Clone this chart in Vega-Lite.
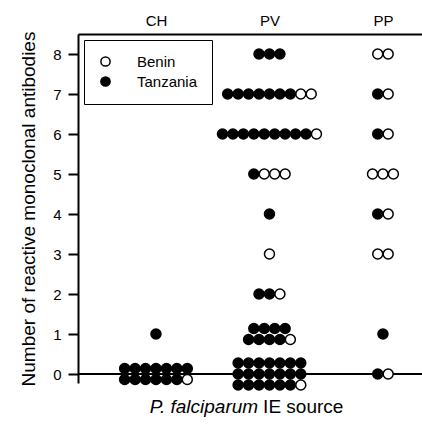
{
  "$schema": "https://vega.github.io/schema/vega-lite/v6.json",
  "width": 344,
  "height": 349,
  "autosize": {"type": "none"},
  "padding": {"left": 78, "top": 34, "right": 0, "bottom": 46},
  "background": "white",
  "config": {
    "view": {"stroke": null},
    "font": "Liberation Sans",
    "axis": {
      "grid": false,
      "domainColor": "black",
      "domainWidth": 2,
      "tickColor": "black",
      "tickWidth": 2,
      "labelColor": "black",
      "labelFont": "Liberation Sans",
      "labelFontSize": 15,
      "titleFont": "Liberation Sans",
      "titleFontSize": 19,
      "titleFontWeight": "normal",
      "titleColor": "black"
    }
  },
  "datasets": {
    "dots": [
      {"source": "CH", "mabs": 1, "origin": "Tanzania", "tier": 1},
      {"source": "CH", "mabs": 0, "origin": "Tanzania", "tier": 1},
      {"source": "CH", "mabs": 0, "origin": "Tanzania", "tier": 1},
      {"source": "CH", "mabs": 0, "origin": "Tanzania", "tier": 1},
      {"source": "CH", "mabs": 0, "origin": "Tanzania", "tier": 1},
      {"source": "CH", "mabs": 0, "origin": "Tanzania", "tier": 1},
      {"source": "CH", "mabs": 0, "origin": "Tanzania", "tier": 1},
      {"source": "CH", "mabs": 0, "origin": "Tanzania", "tier": 1},
      {"source": "CH", "mabs": 0, "origin": "Tanzania", "tier": 2},
      {"source": "CH", "mabs": 0, "origin": "Tanzania", "tier": 2},
      {"source": "CH", "mabs": 0, "origin": "Tanzania", "tier": 2},
      {"source": "CH", "mabs": 0, "origin": "Tanzania", "tier": 2},
      {"source": "CH", "mabs": 0, "origin": "Tanzania", "tier": 2},
      {"source": "CH", "mabs": 0, "origin": "Tanzania", "tier": 2},
      {"source": "CH", "mabs": 0, "origin": "Benin", "tier": 2},

      {"source": "PV", "mabs": 8, "origin": "Tanzania", "tier": 1},
      {"source": "PV", "mabs": 8, "origin": "Tanzania", "tier": 1},
      {"source": "PV", "mabs": 8, "origin": "Tanzania", "tier": 1},
      {"source": "PV", "mabs": 7, "origin": "Tanzania", "tier": 1},
      {"source": "PV", "mabs": 7, "origin": "Tanzania", "tier": 1},
      {"source": "PV", "mabs": 7, "origin": "Tanzania", "tier": 1},
      {"source": "PV", "mabs": 7, "origin": "Tanzania", "tier": 1},
      {"source": "PV", "mabs": 7, "origin": "Tanzania", "tier": 1},
      {"source": "PV", "mabs": 7, "origin": "Tanzania", "tier": 1},
      {"source": "PV", "mabs": 7, "origin": "Tanzania", "tier": 1},
      {"source": "PV", "mabs": 7, "origin": "Benin", "tier": 1},
      {"source": "PV", "mabs": 7, "origin": "Benin", "tier": 1},
      {"source": "PV", "mabs": 6, "origin": "Tanzania", "tier": 1},
      {"source": "PV", "mabs": 6, "origin": "Tanzania", "tier": 1},
      {"source": "PV", "mabs": 6, "origin": "Tanzania", "tier": 1},
      {"source": "PV", "mabs": 6, "origin": "Tanzania", "tier": 1},
      {"source": "PV", "mabs": 6, "origin": "Tanzania", "tier": 1},
      {"source": "PV", "mabs": 6, "origin": "Tanzania", "tier": 1},
      {"source": "PV", "mabs": 6, "origin": "Tanzania", "tier": 1},
      {"source": "PV", "mabs": 6, "origin": "Tanzania", "tier": 1},
      {"source": "PV", "mabs": 6, "origin": "Tanzania", "tier": 1},
      {"source": "PV", "mabs": 6, "origin": "Benin", "tier": 1},
      {"source": "PV", "mabs": 5, "origin": "Tanzania", "tier": 1},
      {"source": "PV", "mabs": 5, "origin": "Benin", "tier": 1},
      {"source": "PV", "mabs": 5, "origin": "Benin", "tier": 1},
      {"source": "PV", "mabs": 5, "origin": "Benin", "tier": 1},
      {"source": "PV", "mabs": 4, "origin": "Tanzania", "tier": 1},
      {"source": "PV", "mabs": 3, "origin": "Benin", "tier": 1},
      {"source": "PV", "mabs": 2, "origin": "Tanzania", "tier": 1},
      {"source": "PV", "mabs": 2, "origin": "Tanzania", "tier": 1},
      {"source": "PV", "mabs": 2, "origin": "Benin", "tier": 1},
      {"source": "PV", "mabs": 1, "origin": "Tanzania", "tier": 1},
      {"source": "PV", "mabs": 1, "origin": "Tanzania", "tier": 1},
      {"source": "PV", "mabs": 1, "origin": "Tanzania", "tier": 1},
      {"source": "PV", "mabs": 1, "origin": "Tanzania", "tier": 1},
      {"source": "PV", "mabs": 1, "origin": "Tanzania", "tier": 2},
      {"source": "PV", "mabs": 1, "origin": "Tanzania", "tier": 2},
      {"source": "PV", "mabs": 1, "origin": "Tanzania", "tier": 2},
      {"source": "PV", "mabs": 1, "origin": "Tanzania", "tier": 2},
      {"source": "PV", "mabs": 1, "origin": "Benin", "tier": 2},
      {"source": "PV", "mabs": 0, "origin": "Tanzania", "tier": 1},
      {"source": "PV", "mabs": 0, "origin": "Tanzania", "tier": 1},
      {"source": "PV", "mabs": 0, "origin": "Tanzania", "tier": 1},
      {"source": "PV", "mabs": 0, "origin": "Tanzania", "tier": 1},
      {"source": "PV", "mabs": 0, "origin": "Tanzania", "tier": 1},
      {"source": "PV", "mabs": 0, "origin": "Tanzania", "tier": 1},
      {"source": "PV", "mabs": 0, "origin": "Tanzania", "tier": 1},
      {"source": "PV", "mabs": 0, "origin": "Tanzania", "tier": 2},
      {"source": "PV", "mabs": 0, "origin": "Tanzania", "tier": 2},
      {"source": "PV", "mabs": 0, "origin": "Tanzania", "tier": 2},
      {"source": "PV", "mabs": 0, "origin": "Tanzania", "tier": 2},
      {"source": "PV", "mabs": 0, "origin": "Tanzania", "tier": 2},
      {"source": "PV", "mabs": 0, "origin": "Tanzania", "tier": 2},
      {"source": "PV", "mabs": 0, "origin": "Tanzania", "tier": 2},
      {"source": "PV", "mabs": 0, "origin": "Tanzania", "tier": 3},
      {"source": "PV", "mabs": 0, "origin": "Tanzania", "tier": 3},
      {"source": "PV", "mabs": 0, "origin": "Tanzania", "tier": 3},
      {"source": "PV", "mabs": 0, "origin": "Tanzania", "tier": 3},
      {"source": "PV", "mabs": 0, "origin": "Tanzania", "tier": 3},
      {"source": "PV", "mabs": 0, "origin": "Tanzania", "tier": 3},
      {"source": "PV", "mabs": 0, "origin": "Benin", "tier": 3},

      {"source": "PP", "mabs": 8, "origin": "Benin", "tier": 1},
      {"source": "PP", "mabs": 8, "origin": "Benin", "tier": 1},
      {"source": "PP", "mabs": 7, "origin": "Tanzania", "tier": 1},
      {"source": "PP", "mabs": 7, "origin": "Benin", "tier": 1},
      {"source": "PP", "mabs": 6, "origin": "Tanzania", "tier": 1},
      {"source": "PP", "mabs": 6, "origin": "Benin", "tier": 1},
      {"source": "PP", "mabs": 5, "origin": "Benin", "tier": 1},
      {"source": "PP", "mabs": 5, "origin": "Benin", "tier": 1},
      {"source": "PP", "mabs": 5, "origin": "Benin", "tier": 1},
      {"source": "PP", "mabs": 4, "origin": "Tanzania", "tier": 1},
      {"source": "PP", "mabs": 4, "origin": "Benin", "tier": 1},
      {"source": "PP", "mabs": 3, "origin": "Benin", "tier": 1},
      {"source": "PP", "mabs": 3, "origin": "Benin", "tier": 1},
      {"source": "PP", "mabs": 1, "origin": "Tanzania", "tier": 1},
      {"source": "PP", "mabs": 0, "origin": "Tanzania", "tier": 1},
      {"source": "PP", "mabs": 0, "origin": "Benin", "tier": 1}
    ]
  },
  "layer": [
    {
      "data": {"values": [{"level": 0}]},
      "mark": {"type": "rule", "color": "black", "strokeWidth": 2},
      "encoding": {
        "y": {"datum": 0, "type": "quantitative", "scale": {"domain": [-0.225, 8.5], "nice": false, "zero": false}}
      }
    },
    {
      "data": {"name": "dots"},
      "transform": [
        {"calculate": "indexof(['CH','PV','PP'], datum.source) + 1", "as": "gi"},
        {"window": [{"op": "row_number", "as": "slot"}], "groupby": ["source", "mabs", "tier"], "sort": [{"field": "origin", "order": "descending"}]},
        {"joinaggregate": [{"op": "count", "as": "n"}], "groupby": ["source", "mabs", "tier"]},
        {"joinaggregate": [{"op": "max", "field": "tier", "as": "nt"}], "groupby": ["source", "mabs"]},
        {"calculate": "datum.gi + (datum.slot - (datum.n + 1) / 2) * 0.092", "as": "xpos"},
        {"calculate": "datum.mabs + ((datum.nt + 1) / 2 - datum.tier) * 0.275", "as": "ypos"}
      ],
      "mark": {"type": "circle", "size": 100, "stroke": "black", "strokeWidth": 1.5, "opacity": 1},
      "encoding": {
        "x": {
          "field": "xpos", "type": "quantitative",
          "scale": {"domain": [0.313, 3.344], "nice": false, "zero": false},
          "axis": {
            "orient": "top", "title": null, "values": [1, 2, 3], "ticks": false, "tickSize": 0,
            "labelPadding": 6, "labelFlush": false, "labelFontSize": 15,
            "labelExpr": "datum.value == 1 ? 'CH' : datum.value == 2 ? 'PV' : 'PP'"
          }
        },
        "y": {
          "field": "ypos", "type": "quantitative",
          "scale": {"domain": [-0.225, 8.5], "nice": false, "zero": false},
          "axis": {
            "title": "Number of reactive monoclonal antibodies",
            "values": [0, 1, 2, 3, 4, 5, 6, 7, 8],
            "tickSize": 10, "labelPadding": 7, "titlePadding": 14
          }
        },
        "fill": {
          "field": "origin", "type": "nominal",
          "scale": {"domain": ["Benin", "Tanzania"], "range": ["white", "black"]},
          "legend": {
            "orient": "none", "legendX": 6, "legendY": 6, "title": null,
            "strokeColor": "black", "fillColor": "white", "padding": 14, "rowPadding": 3,
            "labelFont": "Liberation Sans", "labelFontSize": 15, "labelColor": "black", "labelOffset": 24,
            "symbolType": "circle", "symbolSize": 85, "symbolStrokeColor": "black", "symbolStrokeWidth": 1.5, "symbolOpacity": 1
          }
        },
        "order": {"field": "origin", "sort": "descending"}
      }
    },
    {
      "data": {"values": [{"label": "P. falciparum"}]},
      "mark": {"type": "text", "align": "right", "baseline": "alphabetic", "fontSize": 19, "fontStyle": "italic", "font": "Liberation Sans", "color": "black"},
      "encoding": {
        "text": {"field": "label"},
        "x": {"datum": 1.9, "type": "quantitative", "scale": {"domain": [0.313, 3.344], "nice": false, "zero": false}},
        "y": {"datum": -0.975, "type": "quantitative", "scale": {"domain": [-0.225, 8.5], "nice": false, "zero": false}}
      }
    },
    {
      "data": {"values": [{"label": "IE source"}]},
      "mark": {"type": "text", "align": "left", "baseline": "alphabetic", "dx": 5, "fontSize": 19, "font": "Liberation Sans", "color": "black"},
      "encoding": {
        "text": {"field": "label"},
        "x": {"datum": 1.9, "type": "quantitative", "scale": {"domain": [0.313, 3.344], "nice": false, "zero": false}},
        "y": {"datum": -0.975, "type": "quantitative", "scale": {"domain": [-0.225, 8.5], "nice": false, "zero": false}}
      }
    }
  ]
}
